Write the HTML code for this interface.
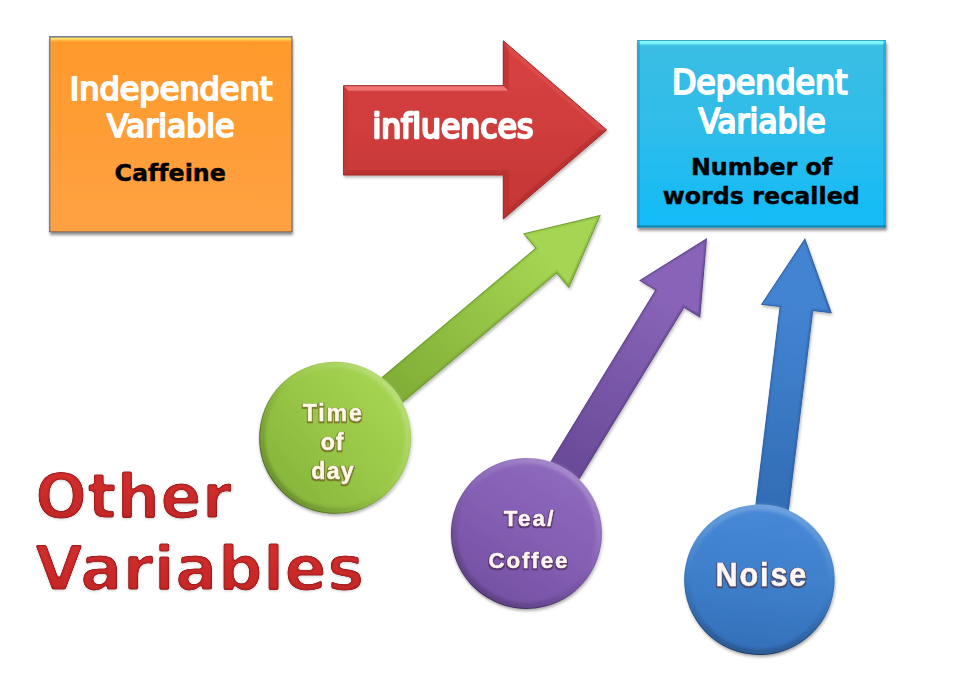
<!DOCTYPE html>
<html><head><meta charset="utf-8"><title>Variables</title>
<style>
html,body{margin:0;padding:0;background:#fff;}
body{width:960px;height:678px;overflow:hidden;}
svg{display:block;}
text{font-variant-ligatures:none;font-feature-settings:"liga" 0,"clig" 0;}
.tah{font-family:"DejaVu Sans Condensed","DejaVu Sans","Liberation Sans",sans-serif;fill:#fff;}
.ver{font-family:"DejaVu Sans","Liberation Sans",sans-serif;font-weight:bold;}
.ari{font-family:"Liberation Sans",sans-serif;font-weight:bold;}
</style></head><body>
<svg width="960" height="678" viewBox="0 0 960 678">
<defs>
<filter id="sh" x="-10%" y="-10%" width="120%" height="125%">
  <feGaussianBlur in="SourceAlpha" stdDeviation="1.8"/>
  <feOffset dx="0.5" dy="2.5"/>
  <feComponentTransfer><feFuncA type="linear" slope="0.45"/></feComponentTransfer>
  <feMerge><feMergeNode/><feMergeNode in="SourceGraphic"/></feMerge>
</filter>
<filter id="sh2" x="-10%" y="-10%" width="120%" height="120%">
  <feGaussianBlur in="SourceAlpha" stdDeviation="1.6"/>
  <feOffset dx="0.6" dy="1.6"/>
  <feComponentTransfer><feFuncA type="linear" slope="0.28"/></feComponentTransfer>
  <feMerge><feMergeNode/><feMergeNode in="SourceGraphic"/></feMerge>
</filter>
<filter id="bl1" x="-5%" y="-5%" width="110%" height="110%"><feGaussianBlur stdDeviation="0.7"/></filter>
<filter id="bl2" x="-10%" y="-10%" width="120%" height="120%"><feGaussianBlur stdDeviation="1.6"/></filter>
<filter id="bl0" x="-10%" y="-20%" width="120%" height="140%"><feGaussianBlur stdDeviation="0.6"/></filter>
<filter id="bev" x="-3%" y="-5%" width="106%" height="112%" color-interpolation-filters="sRGB">
  <feGaussianBlur in="SourceAlpha" stdDeviation="0.9" result="B1"/>
  <feComponentTransfer in="B1" result="T"><feFuncA type="linear" slope="5" intercept="-2.9"/></feComponentTransfer>
  <feFlood flood-color="#8C1416"/><feComposite in2="T" operator="in" result="edge"/>
  <feGaussianBlur in="SourceAlpha" stdDeviation="1.8" result="B2"/>
  <feComponentTransfer in="B2" result="C"><feFuncA type="linear" slope="2.3" intercept="-1.3"/></feComponentTransfer>
  <feComposite in="SourceGraphic" in2="C" operator="in" result="core0"/>
  <feComposite in="core0" in2="T" operator="in" result="core"/>
  <feGaussianBlur in="T" stdDeviation="1.6" result="S0"/>
  <feOffset in="S0" dx="0.3" dy="0.8" result="S1"/>
  <feComponentTransfer in="S1" result="S"><feFuncA type="linear" slope="0.18"/></feComponentTransfer>
  <feMerge><feMergeNode in="S"/><feMergeNode in="edge"/><feMergeNode in="core"/></feMerge>
</filter>
<linearGradient id="gOr" x1="0" y1="0" x2="0" y2="1">
  <stop offset="0" stop-color="#FF9A2B"/><stop offset="1" stop-color="#FFA142"/>
</linearGradient>
<linearGradient id="gOrHi" x1="0" y1="0" x2="0" y2="1">
  <stop offset="0" stop-color="#FFE46E"/><stop offset="0.4" stop-color="#FFD45A"/><stop offset="1" stop-color="#FF9A2B" stop-opacity="0"/>
</linearGradient>
<linearGradient id="gBl" x1="0" y1="0" x2="0" y2="1">
  <stop offset="0" stop-color="#3BBDE3"/><stop offset="0.45" stop-color="#2FBDEA"/><stop offset="1" stop-color="#12BBF8"/>
</linearGradient>
<linearGradient id="gBlHi" x1="0" y1="0" x2="0" y2="1">
  <stop offset="0" stop-color="#86FBFF"/><stop offset="0.5" stop-color="#7AF2FC"/><stop offset="1" stop-color="#3BBDE3" stop-opacity="0"/>
</linearGradient>
<linearGradient id="gRed" x1="0" y1="0" x2="0" y2="1">
  <stop offset="0" stop-color="#DA4242"/><stop offset="1" stop-color="#C43636"/>
</linearGradient>
<linearGradient id="gTxt" x1="0" y1="0" x2="0" y2="1">
  <stop offset="0" stop-color="#D83030"/><stop offset="1" stop-color="#C02424"/>
</linearGradient>
</defs>
<rect width="960" height="678" fill="#fff"/>
<g filter="url(#sh)">
<rect x="49" y="36" width="243" height="196" fill="url(#gOr)"/>
</g>
<rect x="50.4" y="37.5" width="241" height="5.2" fill="url(#gOrHi)"/>
<path d="M49.7,232 V36.8 H292" fill="none" stroke="#74839F" stroke-width="1.5"/>
<path d="M49 231.8H292V36" fill="none" stroke="#6A5A58" stroke-width="1.1" opacity="0.8"/>
<text class="tah" font-size="32" x="171" y="100" text-anchor="middle" textLength="202.5" lengthAdjust="spacingAndGlyphs" stroke="#fff" stroke-width="1.9" stroke-linejoin="round">Independent</text>
<text class="tah" font-size="32" x="170.8" y="137" text-anchor="middle" textLength="127.5" lengthAdjust="spacingAndGlyphs" stroke="#fff" stroke-width="1.9" stroke-linejoin="round">Variable</text>
<text class="ver" font-size="22.5" x="170.2" y="181.1" text-anchor="middle" textLength="111.3" lengthAdjust="spacingAndGlyphs" fill="#000" stroke="#000" stroke-width="0.4">Caffeine</text>
<g filter="url(#sh2)">
<path d="M343.6,85.7 H503.3 V40.8 L606.6,129.9 L503.3,219 V175 H343.6 Z" fill="url(#gRed)" stroke="#9E2626" stroke-width="1" stroke-linejoin="miter"/>
</g>
<g filter="url(#bl1)">
<path d="M344,86.3 H503.8 L508.5,90.8 H348 Z" fill="#F88484" opacity="0.75"/>
<path d="M503.8,41.8 L508.8,49 V90.8 L503.8,86.3 Z" fill="#A82A2A" opacity="0.4"/>
<path d="M503.8,41.8 L605.8,129.7 L599.5,129.7 L508.8,51.5 Z" fill="#E86060" opacity="0.3"/>
<path d="M503.8,218 L605.8,129.9 L599.5,129.9 L508.8,208.4 Z" fill="#9A2424" opacity="0.3"/>
<path d="M503.8,218 L508.8,208.4 V170.2 L503.8,174.5 Z" fill="#B02C2C" opacity="0.35"/>
<path d="M344,174.5 H503.8 L508.5,170.2 H348 Z" fill="#A02828" opacity="0.35"/>
<path d="M344,86.3 L348,90.8 V170.2 L344,174.5 Z" fill="#B83232" opacity="0.35"/>
</g>
<text class="tah" font-size="33" x="452.9" y="138" text-anchor="middle" textLength="161" lengthAdjust="spacingAndGlyphs" stroke="#fff" stroke-width="2.3" stroke-linejoin="round">influences</text>
<g filter="url(#sh)">
<rect x="637" y="40" width="249" height="187.5" fill="url(#gBl)"/>
</g>
<path d="M637,40.6 H886 L882,46.5 H641 Z" fill="url(#gBlHi)"/>
<rect x="637" y="40" width="249" height="1" fill="#2C9CC4" opacity="0.8"/>
<rect x="637" y="40" width="3" height="187.5" fill="#1E8FB8" opacity="0.45"/>
<rect x="883" y="40" width="3" height="187.5" fill="#0A8FD0" opacity="0.35"/>
<rect x="637" y="225.5" width="249" height="2" fill="#156F96" opacity="0.75"/>
<text class="tah" font-size="32.8" x="759.7" y="94.2" text-anchor="middle" textLength="175.5" lengthAdjust="spacingAndGlyphs" stroke="#fff" stroke-width="1.9" stroke-linejoin="round">Dependent</text>
<text class="tah" font-size="32.8" x="762" y="132.8" text-anchor="middle" textLength="127" lengthAdjust="spacingAndGlyphs" stroke="#fff" stroke-width="1.9" stroke-linejoin="round">Variable</text>
<text class="ver" font-size="23" x="761.6" y="175" text-anchor="middle" textLength="141.3" lengthAdjust="spacingAndGlyphs" fill="#000" stroke="#000" stroke-width="0.4">Number of</text>
<text class="ver" font-size="23" x="761.3" y="203.6" text-anchor="middle" textLength="197" lengthAdjust="spacingAndGlyphs" fill="#000" stroke="#000" stroke-width="0.4">words recalled</text>
<linearGradient id="gag" gradientUnits="userSpaceOnUse" x1="0" y1="-76" x2="0" y2="-345.6">
<stop offset="0" stop-color="#80AE37"/><stop offset="0.75" stop-color="#A4D552"/><stop offset="1" stop-color="#A4D552"/></linearGradient>
<linearGradient id="gcg" gradientUnits="userSpaceOnUse" x1="0" y1="-76" x2="0" y2="76">
<stop offset="0" stop-color="#A5D551"/><stop offset="0.5" stop-color="#98C747"/><stop offset="1" stop-color="#85B53A"/></linearGradient>
<clipPath id="cpg"><path d="M-16.10,0.00 L-16.10,-275.61 L-35.00,-275.61 L0.00,-345.61 L35.00,-275.61 L16.10,-275.61 L16.10,0.00Z"/></clipPath>
<linearGradient id="gsg" gradientUnits="userSpaceOnUse" x1="-35.0" y1="0" x2="35.0" y2="0">
<stop offset="0" stop-color="#6E9A2E" stop-opacity="0.12"/><stop offset="0.5" stop-color="#6E9A2E" stop-opacity="0.25"/><stop offset="1" stop-color="#6E9A2E" stop-opacity="0.5"/></linearGradient>
<linearGradient id="geg" gradientUnits="userSpaceOnUse" x1="0" y1="-76" x2="0" y2="76">
<stop offset="0" stop-color="#fff" stop-opacity="0.15"/><stop offset="0.4" stop-color="#000" stop-opacity="0.05"/><stop offset="1" stop-color="#000" stop-opacity="0.4"/></linearGradient>
<linearGradient id="grg" gradientUnits="userSpaceOnUse" x1="0" y1="-76" x2="0" y2="76">
<stop offset="0" stop-color="#fff" stop-opacity="0.22"/><stop offset="0.45" stop-color="#fff" stop-opacity="0.02"/><stop offset="0.55" stop-color="#000" stop-opacity="0.02"/><stop offset="1" stop-color="#000" stop-opacity="0.2"/></linearGradient>
<g filter="url(#sh2)">
<g transform="translate(335.2,437.7) rotate(50.01)">
<path d="M-16.10,0.00 L-16.10,-275.61 L-35.00,-275.61 L0.00,-345.61 L35.00,-275.61 L16.10,-275.61 L16.10,0.00Z" fill="url(#gag)" stroke="#6E9A2E" stroke-width="1" stroke-opacity="0.95"/>
<g clip-path="url(#cpg)"><path d="M-16.10,0.00 L-16.10,-275.61 L-35.00,-275.61 L0.00,-345.61 L35.00,-275.61 L16.10,-275.61 L16.10,0.00Z" fill="none" stroke="url(#gsg)" stroke-width="4.4" filter="url(#bl1)"/></g>
</g>
<g transform="translate(335.2,437.7) rotate(50.01)">
<circle cx="0" cy="0" r="76" fill="url(#gcg)"/>
<circle cx="0" cy="0" r="73" fill="none" stroke="url(#grg)" stroke-width="6" filter="url(#bl2)"/>
<circle cx="0" cy="0" r="75.5" fill="none" stroke="url(#geg)" stroke-width="1"/>
</g>
</g>
<linearGradient id="gap" gradientUnits="userSpaceOnUse" x1="0" y1="-75.5" x2="0" y2="-345.0">
<stop offset="0" stop-color="#6A4A98"/><stop offset="0.75" stop-color="#8964B8"/><stop offset="1" stop-color="#8964B8"/></linearGradient>
<linearGradient id="gcp" gradientUnits="userSpaceOnUse" x1="0" y1="-75.5" x2="0" y2="75.5">
<stop offset="0" stop-color="#8E69BD"/><stop offset="0.5" stop-color="#845EB2"/><stop offset="1" stop-color="#7550A3"/></linearGradient>
<clipPath id="cpp"><path d="M-16.50,0.00 L-16.50,-275.02 L-35.00,-275.02 L0.00,-345.02 L35.00,-275.02 L16.50,-275.02 L16.50,0.00Z"/></clipPath>
<linearGradient id="gsp" gradientUnits="userSpaceOnUse" x1="-35.0" y1="0" x2="35.0" y2="0">
<stop offset="0" stop-color="#5A3F86" stop-opacity="0.12"/><stop offset="0.5" stop-color="#5A3F86" stop-opacity="0.25"/><stop offset="1" stop-color="#5A3F86" stop-opacity="0.5"/></linearGradient>
<linearGradient id="gep" gradientUnits="userSpaceOnUse" x1="0" y1="-75.5" x2="0" y2="75.5">
<stop offset="0" stop-color="#fff" stop-opacity="0.15"/><stop offset="0.4" stop-color="#000" stop-opacity="0.05"/><stop offset="1" stop-color="#000" stop-opacity="0.4"/></linearGradient>
<linearGradient id="grp" gradientUnits="userSpaceOnUse" x1="0" y1="-75.5" x2="0" y2="75.5">
<stop offset="0" stop-color="#fff" stop-opacity="0.22"/><stop offset="0.45" stop-color="#fff" stop-opacity="0.02"/><stop offset="0.55" stop-color="#000" stop-opacity="0.02"/><stop offset="1" stop-color="#000" stop-opacity="0.2"/></linearGradient>
<g filter="url(#sh2)">
<g transform="translate(526.5,533.4) rotate(31.43)">
<path d="M-16.50,0.00 L-16.50,-275.02 L-35.00,-275.02 L0.00,-345.02 L35.00,-275.02 L16.50,-275.02 L16.50,0.00Z" fill="url(#gap)" stroke="#5A3F86" stroke-width="1" stroke-opacity="0.95"/>
<g clip-path="url(#cpp)"><path d="M-16.50,0.00 L-16.50,-275.02 L-35.00,-275.02 L0.00,-345.02 L35.00,-275.02 L16.50,-275.02 L16.50,0.00Z" fill="none" stroke="url(#gsp)" stroke-width="4.4" filter="url(#bl1)"/></g>
</g>
<g transform="translate(526.5,533.4) rotate(31.43)">
<circle cx="0" cy="0" r="75.5" fill="url(#gcp)"/>
<circle cx="0" cy="0" r="72.5" fill="none" stroke="url(#grp)" stroke-width="6" filter="url(#bl2)"/>
<circle cx="0" cy="0" r="75.0" fill="none" stroke="url(#gep)" stroke-width="1"/>
</g>
</g>
<linearGradient id="gab" gradientUnits="userSpaceOnUse" x1="0" y1="-75.2" x2="0" y2="-343.2">
<stop offset="0" stop-color="#326DB6"/><stop offset="0.75" stop-color="#4384D2"/><stop offset="1" stop-color="#4384D2"/></linearGradient>
<linearGradient id="gcb" gradientUnits="userSpaceOnUse" x1="0" y1="-75.2" x2="0" y2="75.2">
<stop offset="0" stop-color="#4789D7"/><stop offset="0.5" stop-color="#3E7FCB"/><stop offset="1" stop-color="#346FB9"/></linearGradient>
<clipPath id="cpb"><path d="M-16.45,0.00 L-16.45,-273.23 L-35.00,-273.23 L0.00,-343.23 L35.00,-273.23 L16.45,-273.23 L16.45,0.00Z"/></clipPath>
<linearGradient id="gsb" gradientUnits="userSpaceOnUse" x1="-35.0" y1="0" x2="35.0" y2="0">
<stop offset="0" stop-color="#2C5E9E" stop-opacity="0.12"/><stop offset="0.5" stop-color="#2C5E9E" stop-opacity="0.25"/><stop offset="1" stop-color="#2C5E9E" stop-opacity="0.5"/></linearGradient>
<linearGradient id="geb" gradientUnits="userSpaceOnUse" x1="0" y1="-75.2" x2="0" y2="75.2">
<stop offset="0" stop-color="#fff" stop-opacity="0.15"/><stop offset="0.4" stop-color="#000" stop-opacity="0.05"/><stop offset="1" stop-color="#000" stop-opacity="0.4"/></linearGradient>
<linearGradient id="grb" gradientUnits="userSpaceOnUse" x1="0" y1="-75.2" x2="0" y2="75.2">
<stop offset="0" stop-color="#fff" stop-opacity="0.22"/><stop offset="0.45" stop-color="#fff" stop-opacity="0.02"/><stop offset="0.55" stop-color="#000" stop-opacity="0.02"/><stop offset="1" stop-color="#000" stop-opacity="0.2"/></linearGradient>
<g filter="url(#sh2)">
<g transform="translate(763.3,579.7) rotate(6.96)">
<path d="M-16.45,0.00 L-16.45,-273.23 L-35.00,-273.23 L0.00,-343.23 L35.00,-273.23 L16.45,-273.23 L16.45,0.00Z" fill="url(#gab)" stroke="#2C5E9E" stroke-width="1" stroke-opacity="0.95"/>
<g clip-path="url(#cpb)"><path d="M-16.45,0.00 L-16.45,-273.23 L-35.00,-273.23 L0.00,-343.23 L35.00,-273.23 L16.45,-273.23 L16.45,0.00Z" fill="none" stroke="url(#gsb)" stroke-width="4.4" filter="url(#bl1)"/></g>
</g>
<g transform="translate(759.4,579.7) rotate(6.96)">
<circle cx="0" cy="0" r="75.2" fill="url(#gcb)"/>
<circle cx="0" cy="0" r="72.2" fill="none" stroke="url(#grb)" stroke-width="6" filter="url(#bl2)"/>
<circle cx="0" cy="0" r="74.7" fill="none" stroke="url(#geb)" stroke-width="1"/>
</g>
</g>
<defs><filter id="olg" x="-15%" y="-30%" width="130%" height="160%" color-interpolation-filters="sRGB">
  <feMorphology in="SourceAlpha" operator="dilate" radius="1" result="D"/>
  <feGaussianBlur in="D" stdDeviation="0.75" result="DB"/>
  <feOffset in="DB" dx="0.4" dy="0.6" result="DO"/>
  <feFlood flood-color="#6B4A1E" flood-opacity="0.62"/><feComposite in2="DO" operator="in" result="OL"/>
  <feMerge><feMergeNode in="OL"/><feMergeNode in="SourceGraphic"/></feMerge>
</filter>
<filter id="olp" x="-15%" y="-30%" width="130%" height="160%" color-interpolation-filters="sRGB">
  <feMorphology in="SourceAlpha" operator="dilate" radius="1" result="D"/>
  <feGaussianBlur in="D" stdDeviation="0.75" result="DB"/>
  <feOffset in="DB" dx="0.4" dy="0.6" result="DO"/>
  <feFlood flood-color="#4A2248" flood-opacity="0.62"/><feComposite in2="DO" operator="in" result="OL"/>
  <feMerge><feMergeNode in="OL"/><feMergeNode in="SourceGraphic"/></feMerge>
</filter>
<filter id="olb" x="-15%" y="-30%" width="130%" height="160%" color-interpolation-filters="sRGB">
  <feMorphology in="SourceAlpha" operator="dilate" radius="1.2" result="D"/>
  <feGaussianBlur in="D" stdDeviation="0.75" result="DB"/>
  <feOffset in="DB" dx="0.4" dy="0.6" result="DO"/>
  <feFlood flood-color="#55282C" flood-opacity="0.58"/><feComposite in2="DO" operator="in" result="OL"/>
  <feMerge><feMergeNode in="OL"/><feMergeNode in="SourceGraphic"/></feMerge>
</filter>
</defs>
<text class="ari" font-size="23.4" text-anchor="middle" textLength="59.6" lengthAdjust="spacing" transform="translate(332.3,421.3) scale(0.99,1)" fill="#FFF8EA" stroke="#FFF8EA" stroke-width="0.5" stroke-linejoin="round" filter="url(#olg)">Time</text>
<text class="ari" font-size="23.4" text-anchor="middle" textLength="22.8" lengthAdjust="spacing" transform="translate(332.1,450.2) scale(0.99,1)" fill="#FFF8EA" stroke="#FFF8EA" stroke-width="0.5" stroke-linejoin="round" filter="url(#olg)">of</text>
<text class="ari" font-size="23.4" text-anchor="middle" textLength="42.7" lengthAdjust="spacing" transform="translate(332.5,478.9) scale(0.99,1)" fill="#FFF8EA" stroke="#FFF8EA" stroke-width="0.5" stroke-linejoin="round" filter="url(#olg)">day</text>
<text class="ari" font-size="22.8" text-anchor="middle" textLength="50.8" lengthAdjust="spacing" transform="translate(528.6,525.9) scale(0.98,1)" fill="#FFF7F3" stroke="#FFF7F3" stroke-width="0.5" stroke-linejoin="round" filter="url(#olp)">Tea/</text>
<text class="ari" font-size="22.8" text-anchor="middle" textLength="80.6" lengthAdjust="spacing" transform="translate(527.9,568.3) scale(0.98,1)" fill="#FFF7F3" stroke="#FFF7F3" stroke-width="0.5" stroke-linejoin="round" filter="url(#olp)">Coffee</text>
<text class="ari" font-size="33.3" text-anchor="middle" textLength="98.9" lengthAdjust="spacing" transform="translate(760.9,586.3) scale(0.92,1)" fill="#FFF7F3" stroke="#FFF7F3" stroke-width="0.5" stroke-linejoin="round" filter="url(#olb)">Noise</text>
<g filter="url(#bev)">
<text class="ver" font-size="62.5" x="35" y="517.6" textLength="197" lengthAdjust="spacingAndGlyphs" fill="url(#gTxt)">Other</text>
<text class="ver" font-size="62.5" x="34.6" y="589.8" textLength="330" lengthAdjust="spacingAndGlyphs" fill="url(#gTxt)">Variables</text>
</g>
</svg></body></html>
